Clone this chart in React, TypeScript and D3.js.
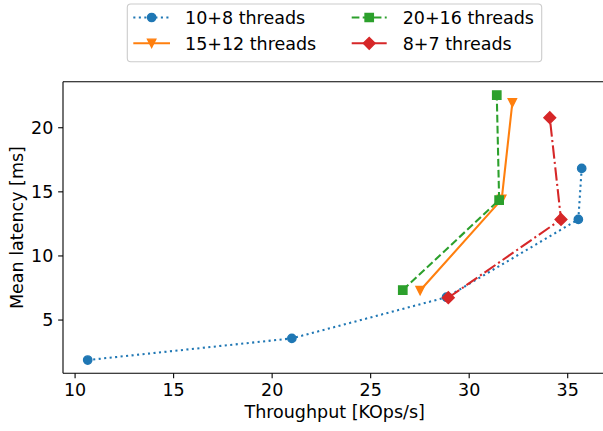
import React from "react";
import * as d3 from "d3";

// Throughput (KOps/s) and mean latency (ms) per thread configuration
const throughput10_8 = [10.64, 21.0, 28.85, 35.54, 35.71];
const latency10_8 = [1.88, 3.57, 6.78, 12.85, 16.83];
const throughput15_12 = [27.51, 31.65, 32.19];
const latency15_12 = [7.3, 14.41, 21.95];
const throughput20_16 = [26.63, 31.52, 31.4];
const latency20_16 = [7.34, 14.36, 22.55];
const throughput8_7 = [28.94, 34.66, 34.09];
const latency8_7 = [6.74, 12.85, 20.78];

const seriesNames = ["10+8 threads", "15+12 threads", "20+16 threads", "8+7 threads"];
const xTicks = [10, 15, 20, 25, 30, 35];
const yTicks = [5, 10, 15, 20];

type Marker = "circle" | "triangleDown" | "square" | "diamond";

const W = 603;
const H = 431;
const FONT = "'DejaVu Sans', sans-serif";
const FS = 17.5;
const LW = 2.08;
const MS = 8.33;

const left = 63;
const right = 606.4;
const top = 81.8;
const bottom = 373.3;

const series = [
  { name: seriesNames[0], xs: throughput10_8, ys: latency10_8, color: "#1f77b4", dash: `${LW} ${LW * 1.65}`, marker: "circle" as Marker },
  { name: seriesNames[1], xs: throughput15_12, ys: latency15_12, color: "#ff7f0e", dash: "none", marker: "triangleDown" as Marker },
  { name: seriesNames[2], xs: throughput20_16, ys: latency20_16, color: "#2ca02c", dash: `${LW * 3.7} ${LW * 1.6}`, marker: "square" as Marker },
  { name: seriesNames[3], xs: throughput8_7, ys: latency8_7, color: "#d62728", dash: `${LW * 6.4} ${LW * 1.6} ${LW} ${LW * 1.6}`, marker: "diamond" as Marker },
];

function padded(vals: number[]): [number, number] {
  const [lo, hi] = d3.extent(vals) as [number, number];
  const m = (hi - lo) * 0.05;
  return [lo - m, hi + m];
}

const allX = series.flatMap((s) => s.xs);
const allY = series.flatMap((s) => s.ys);
const xScale = d3.scaleLinear().domain(padded(allX)).range([left, right]);
const yScale = d3.scaleLinear().domain(padded(allY)).range([bottom, top]);

function markerPath(m: Marker): string {
  const h = MS / 2;
  switch (m) {
    case "circle":
      return d3.symbol(d3.symbolCircle, Math.PI * h * h)() as string;
    case "square":
      return `M${-h},${-h}H${h}V${h}H${-h}Z`;
    case "diamond": {
      const d = h * Math.SQRT2;
      return `M0,${-d}L${d},0L0,${d}L${-d},0Z`;
    }
    case "triangleDown":
      return `M0,${h}L${-h},${-h}L${h},${-h}Z`;
  }
}

function MarkerShape({ x, y, m, color }: { x: number; y: number; m: Marker; color: string }) {
  return (
    <path
      d={markerPath(m)}
      transform={`translate(${x},${y})`}
      fill={color}
      stroke={color}
      strokeWidth={1.39}
      strokeLinejoin="miter"
    />
  );
}

export default function App() {
  const line = d3
    .line<[number, number]>()
    .x((d) => xScale(d[0]))
    .y((d) => yScale(d[1]));

  const legendCols = [
    { handleX0: 133.3, handleX1: 170, textX: 185 },
    { handleX0: 351.7, handleX1: 386.7, textX: 402.7 },
  ];
  const legendRows = [17.5, 43.3];

  return (
    <svg
      width={W}
      height={H}
      style={{ position: "absolute", left: 0, top: 0, background: "#fff" }}
      fontFamily={FONT}
    >
      {/* series */}
      <g>
        {series.map((s) => {
          const pts = s.xs.map((x, i) => [x, s.ys[i]] as [number, number]);
          return (
            <g key={s.name}>
              <path
                d={line(pts) as string}
                fill="none"
                stroke={s.color}
                strokeWidth={LW}
                strokeDasharray={s.dash}
              />
              {pts.map((p, i) => (
                <MarkerShape key={i} x={xScale(p[0])} y={yScale(p[1])} m={s.marker} color={s.color} />
              ))}
            </g>
          );
        })}
      </g>

      {/* spines */}
      <g stroke="#000" strokeWidth={1.1} fill="none">
        <line x1={left} y1={top} x2={left} y2={bottom} />
        <line x1={left} y1={bottom} x2={right} y2={bottom} />
        <line x1={left} y1={top} x2={right} y2={top} />
        <line x1={right} y1={top} x2={right} y2={bottom} />
      </g>

      {/* x axis */}
      <g>
        {xTicks.map((t) => (
          <g key={t} transform={`translate(${xScale(t)},0)`}>
            <line y1={bottom} y2={bottom + 4.86} stroke="#000" strokeWidth={1.1} />
            <text y={396} textAnchor="middle" fontSize={FS} fill="#000">
              {t}
            </text>
          </g>
        ))}
        <text x={(left + right) / 2} y={418} textAnchor="middle" fontSize={FS} fill="#000">
          Throughput [KOps/s]
        </text>
      </g>

      {/* y axis */}
      <g>
        {yTicks.map((t) => (
          <g key={t} transform={`translate(0,${yScale(t)})`}>
            <line x1={left} x2={left - 4.86} stroke="#000" strokeWidth={1.1} />
            <text x={53.3} y={6.2} textAnchor="end" fontSize={FS} fill="#000">
              {t}
            </text>
          </g>
        ))}
        <text
          transform={`translate(22.5,${(top + bottom) / 2}) rotate(-90)`}
          textAnchor="middle"
          fontSize={FS}
          fill="#000"
        >
          Mean latency [ms]
        </text>
      </g>

      {/* legend */}
      <g>
        <rect
          x={127.3}
          y={4}
          width={541.7 - 127.3}
          height={61.7 - 4}
          rx={3.5}
          fill="#fff"
          fillOpacity={0.8}
          stroke="#cccccc"
          strokeWidth={1.1}
        />
        {series.map((s, i) => {
          const col = legendCols[Math.floor(i / 2)];
          const y = legendRows[i % 2];
          const cx = (col.handleX0 + col.handleX1) / 2;
          return (
            <g key={s.name}>
              <line
                x1={col.handleX0}
                x2={col.handleX1}
                y1={y}
                y2={y}
                stroke={s.color}
                strokeWidth={LW}
                strokeDasharray={s.dash}
              />
              <MarkerShape x={cx} y={y} m={s.marker} color={s.color} />
              <text x={col.textX} y={y + 6.3} fontSize={FS} fill="#000">
                {s.name}
              </text>
            </g>
          );
        })}
      </g>
    </svg>
  );
}
